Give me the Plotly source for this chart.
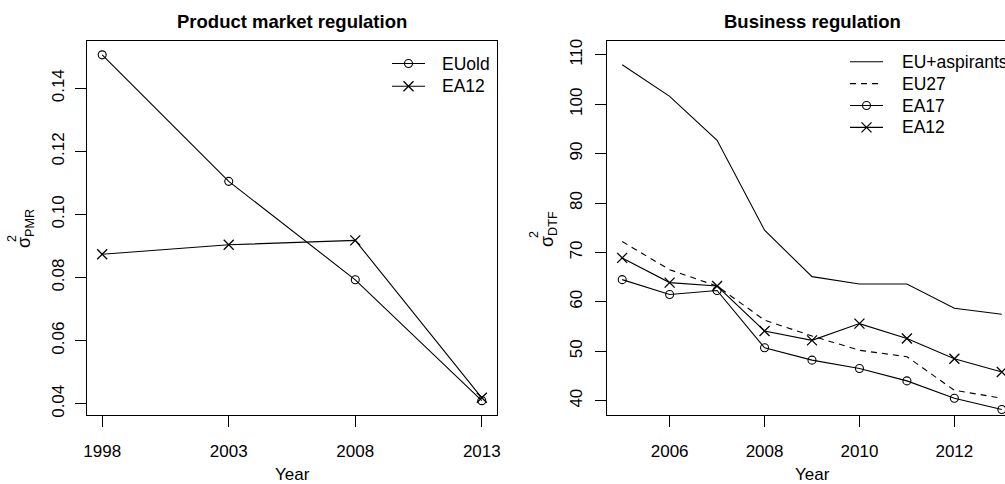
import plotly.graph_objects as go

# ---------------- data ----------------
pmr_years = [1998, 2003, 2008, 2013]
pmr_euold = [0.1506, 0.1105, 0.0793, 0.0410]
pmr_ea12 = [0.0874, 0.0904, 0.0918, 0.0419]
pmr_ticks = [1998, 2003, 2008, 2013]
pmr_yticks = [0.04, 0.06, 0.08, 0.10, 0.12, 0.14]

dtf_years = [2005, 2006, 2007, 2008, 2009, 2010, 2011, 2012, 2013]
dtf_eu_asp = [108.0, 101.6, 92.7, 74.5, 65.1, 63.6, 63.6, 58.7, 57.5]
dtf_eu27 = [72.2, 66.5, 63.2, 56.3, 53.1, 50.2, 48.9, 42.1, 40.5]
dtf_ea17 = [64.5, 61.5, 62.3, 50.7, 48.2, 46.5, 44.0, 40.5, 38.2]
dtf_ea12 = [68.9, 63.9, 63.2, 54.1, 52.2, 55.6, 52.6, 48.5, 45.8]
dtf_ticks = [2006, 2008, 2010, 2012]
dtf_yticks = [40, 50, 60, 70, 80, 90, 100, 110]
dtf_ylim = [40, 110]

left_legend = ["EUold", "EA12"]
right_legend = ["EU+aspirants", "EU27", "EA17", "EA12"]

# ---------------- layout helpers ----------------
W, H = 1005, 484
FONT = "Liberation Sans, Arial, sans-serif"
FS = 17
def px(x):
    return x / W
def py(y):
    return 1 - y / H

def rpad(lo, hi):
    d = (hi - lo) * 0.04
    return [lo - d, hi + d]

L_BOX = (87, 497)
R_BOX = (607, 1017)   # right edge falls outside the window
TOP, BOT = 41, 414.5

fig = go.Figure()

line = dict(color="black", width=1.1)
circ = dict(symbol="circle-open", size=8, color="black", line=dict(width=1.1, color="black"))
cross = dict(symbol="x-thin-open", size=10, color="black", line=dict(width=1.3, color="black"))

# left panel
fig.add_trace(go.Scatter(x=pmr_years, y=pmr_euold, mode="lines+markers", line=line,
                         marker=circ, xaxis="x", yaxis="y", showlegend=False, cliponaxis=False))
fig.add_trace(go.Scatter(x=pmr_years, y=pmr_ea12, mode="lines+markers", line=line,
                         marker=cross, xaxis="x", yaxis="y", showlegend=False, cliponaxis=False))
# right panel
fig.add_trace(go.Scatter(x=dtf_years, y=dtf_eu_asp, mode="lines", line=line,
                         xaxis="x2", yaxis="y2", showlegend=False))
fig.add_trace(go.Scatter(x=dtf_years, y=dtf_eu27, mode="lines",
                         line=dict(color="black", width=1.1, dash="6px,5px"),
                         xaxis="x2", yaxis="y2", showlegend=False))
fig.add_trace(go.Scatter(x=dtf_years, y=dtf_ea17, mode="lines+markers", line=line,
                         marker=circ, xaxis="x2", yaxis="y2", showlegend=False, cliponaxis=False))
fig.add_trace(go.Scatter(x=dtf_years, y=dtf_ea12, mode="lines+markers", line=line,
                         marker=cross, xaxis="x2", yaxis="y2", showlegend=False, cliponaxis=False))

# ---------------- legends (pixel overlay axes) ----------------
def legend_entry(x0, x1, y, tx, label, dash=None, marker=None):
    fig.add_trace(go.Scatter(x=[x0, x1], y=[y, y], mode="lines",
                             line=dict(color="black", width=1.1, dash=dash or "solid"),
                             xaxis="x3", yaxis="y3", showlegend=False, hoverinfo="skip"))
    if marker is not None:
        fig.add_trace(go.Scatter(x=[(x0 + x1) / 2], y=[y], mode="markers", marker=marker,
                                 xaxis="x3", yaxis="y3", showlegend=False, hoverinfo="skip"))
    fig.add_annotation(x=tx, y=y, xref="x3", yref="y3", text=label, showarrow=False,
                       xanchor="left", yanchor="middle", font=dict(size=FS + 0.5, family=FONT, color="black"))

left_marks = [circ, cross]
for i, lab in enumerate(left_legend):
    legend_entry(392, 425, 63.5 + i * 22.7, 440, lab, marker=left_marks[i])

right_styles = [(None, None), ("6px,5px", None), (None, circ), (None, cross)]
for i, lab in enumerate(right_legend):
    d, m = right_styles[i]
    legend_entry(850, 883, 61.7 + i * 21.9, 900, lab, dash=d, marker=m)

# ---------------- axes ----------------
axis_common = dict(showline=True, linecolor="black", linewidth=1.1, ticks="outside",
                   ticklen=11, tickwidth=1.1, tickcolor="black", showgrid=False, zeroline=False,
                   automargin=False,
                   tickfont=dict(size=FS, family=FONT, color="black"))

pmr_xr = rpad(min(pmr_years), max(pmr_years))
pmr_yr = rpad(min(pmr_euold + pmr_ea12), max(pmr_euold + pmr_ea12))
dtf_xr_full = rpad(min(dtf_years), max(dtf_years))
vis = (W - R_BOX[0]) / (R_BOX[1] - R_BOX[0])
dtf_xr = [dtf_xr_full[0], dtf_xr_full[0] + (dtf_xr_full[1] - dtf_xr_full[0]) * vis]
dtf_yr = rpad(*dtf_ylim)

fig.update_layout(
    width=W, height=H, margin=dict(l=0, r=0, t=0, b=0, autoexpand=False),
    paper_bgcolor="white", plot_bgcolor="rgba(0,0,0,0)",
    font=dict(family=FONT, color="black"),
    xaxis=dict(domain=[px(L_BOX[0]), px(L_BOX[1])], range=pmr_xr, tickvals=pmr_ticks,
               mirror=True, anchor="y", ticklabelstandoff=10, **axis_common),
    yaxis=dict(domain=[py(BOT), py(TOP)], range=pmr_yr, tickvals=pmr_yticks,
               ticktext=[f"{v:.2f}" for v in pmr_yticks], tickangle=-90,
               mirror=True, anchor="x", ticklabelstandoff=4, **axis_common),
    xaxis2=dict(domain=[px(R_BOX[0]), 1.0], range=dtf_xr, tickvals=dtf_ticks,
                mirror=True, anchor="y2", ticklabelstandoff=10, **axis_common),
    yaxis2=dict(domain=[py(BOT), py(TOP)], range=dtf_yr, tickvals=dtf_yticks,
                tickangle=-90, mirror=False, anchor="x2", ticklabelstandoff=6, **axis_common),
    xaxis3=dict(domain=[0, 1], range=[0, W], visible=False, anchor="y3", fixedrange=True),
    yaxis3=dict(domain=[0, 1], range=[H, 0], visible=False, anchor="x3", fixedrange=True),
)

# ---------------- titles ----------------
def ann(x, y, text, size=FS, bold=False, angle=0):
    fig.add_annotation(x=px(x), y=py(y), xref="paper", yref="paper", text=f"<b>{text}</b>" if bold else text,
                       showarrow=False, xanchor="center", yanchor="middle", textangle=angle,
                       font=dict(size=size, family=FONT, color="black"))

ann((L_BOX[0] + L_BOX[1]) / 2, 21, "Product market regulation", size=18.5, bold=True)
ann((R_BOX[0] + R_BOX[1]) / 2, 21, "Business regulation", size=18.5, bold=True)
ann((L_BOX[0] + L_BOX[1]) / 2, 474, "Year")
ann((R_BOX[0] + R_BOX[1]) / 2, 474, "Year")

ann(26, 229, "σ<sub>PMR</sub>", size=18, angle=-90)
ann(12, 239, "2", size=12.5, angle=-90)
ann(549, 229, "σ<sub>DTF</sub>", size=18, angle=-90)
ann(534, 235, "2", size=12.5, angle=-90)

fig.write_html("out.html", config={"displayModeBar": False},
               post_script="document.body.style.margin='0px';document.body.style.overflow='hidden';")
